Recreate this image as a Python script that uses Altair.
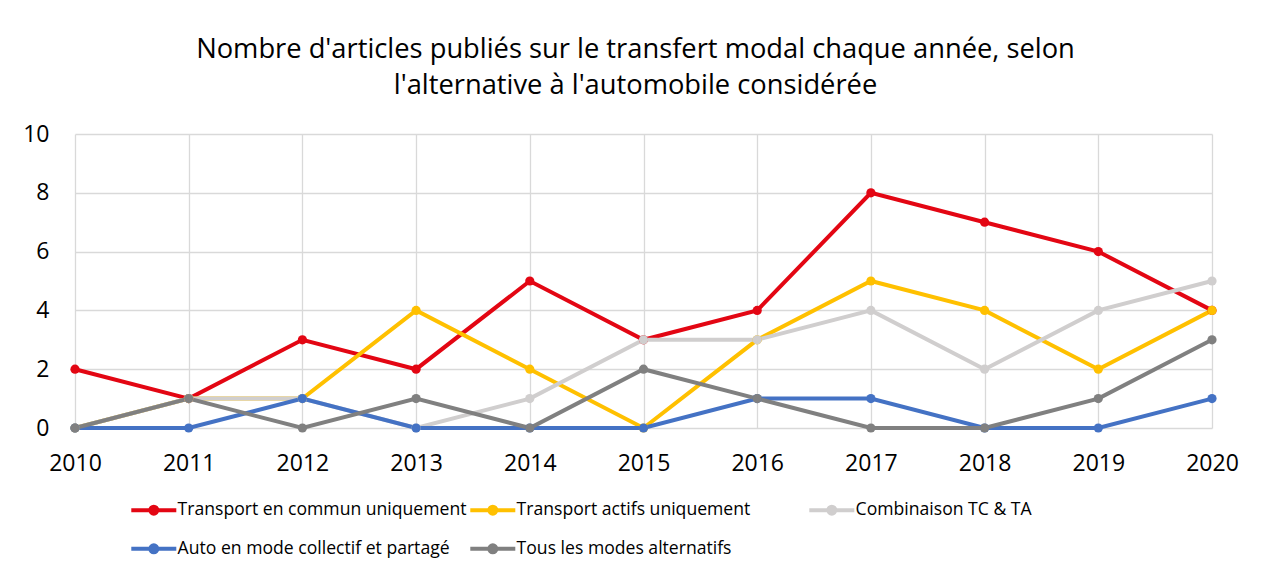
import altair as alt
import pandas as pd

years = list(range(2010, 2021))
series_names = [
    "Transport en commun uniquement",
    "Transport actifs uniquement",
    "Combinaison TC & TA",
    "Auto en mode collectif et partagé",
    "Tous les modes alternatifs",
]
tc = [2, 1, 3, 2, 5, 3, 4, 8, 7, 6, 4]
ta = [0, 1, 1, 4, 2, 0, 3, 5, 4, 2, 4]
combi = [0, 1, 1, 0, 1, 3, 3, 4, 2, 4, 5]
auto = [0, 0, 1, 0, 0, 0, 1, 1, 0, 0, 1]
tous = [0, 1, 0, 1, 0, 2, 1, 0, 0, 1, 3]
colors = ["#E30613", "#FFC000", "#D0CECE", "#4472C4", "#808080"]
y_ticks = [0, 2, 4, 6, 8, 10]

rows = []
for i, (name, vals) in enumerate(zip(series_names, [tc, ta, combi, auto, tous])):
    for yr, v in zip(years, vals):
        rows.append({"Année": yr, "Articles": v, "Série": name, "ordre": i})
df = pd.DataFrame(rows)

FONT = "Open Sans"
legend_symbol = "M-4.5,0L4.5,0M0,-0.7A0.7,0.7,0,1,1,0,0.7A0.7,0.7,0,1,1,0,-0.7"

chart = (
    alt.Chart(df)
    .mark_line(point=alt.OverlayMarkDef(filled=True, size=85), strokeWidth=4)
    .encode(
        x=alt.X(
            "Année:Q",
            scale=alt.Scale(domain=[2010, 2020], nice=False, zero=False),
            axis=alt.Axis(
                values=years, format="d", title=None, grid=True, gridColor="#D9D9D9",
                gridWidth=1.3, domain=False, ticks=False, labelFontSize=23, labelFont=FONT,
                labelColor="#000000", labelPadding=24, labelFlush=False,
            ),
        ),
        y=alt.Y(
            "Articles:Q",
            scale=alt.Scale(domain=[0, 10], nice=False),
            axis=alt.Axis(
                values=y_ticks, title=None, grid=True, gridColor="#D9D9D9", gridWidth=1.3,
                domain=False, ticks=False, labelFontSize=23, labelFont=FONT,
                labelColor="#000000", labelPadding=26,
            ),
        ),
        color=alt.Color(
            "Série:N",
            scale=alt.Scale(domain=series_names, range=colors),
            legend=alt.Legend(
                title=None, orient="none", direction="horizontal", legendX=70,
                legendY=367, columns=3, gridAlign="all", symbolType=legend_symbol,
                symbolSize=100, symbolStrokeWidth=4, labelFontSize=17.6, labelFont=FONT,
                labelColor="#000000", labelOffset=15, rowPadding=15, columnPadding=-5,
                labelLimit=400,
            ),
        ),
        order=alt.Order("ordre:Q"),
    )
    .properties(
        width=1137,
        height=294,
        padding={"left": 67, "top": 126, "right": 44, "bottom": 137},
        autosize=alt.AutoSizeParams(type="none"),
        title=alt.Title(
            ["Nombre d'articles publiés sur le transfert modal chaque année, selon",
             "l'alternative à l'automobile considérée"],
            fontSize=27.3, font=FONT, fontWeight="normal", color="#000000",
            anchor="middle", offset=24, lineHeight=36, dx=-8,
        ),
    )
    .configure_view(stroke=None)
)

chart.save("out.html", embed_options={"renderer": "svg", "actions": False})
